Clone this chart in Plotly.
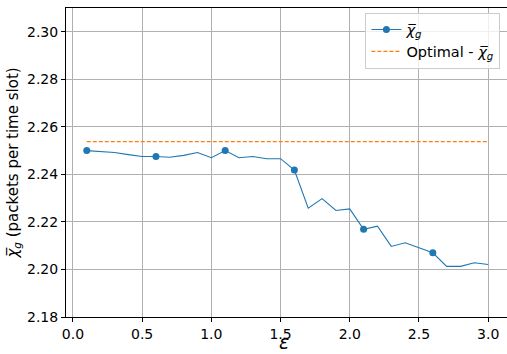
import plotly.graph_objects as go

eps = [0.1, 0.2, 0.3, 0.4, 0.5, 0.6, 0.7, 0.8, 0.9, 1.0,
       1.1, 1.2, 1.3, 1.4, 1.5, 1.6, 1.7, 1.8, 1.9, 2.0,
       2.1, 2.2, 2.3, 2.4, 2.5, 2.6, 2.7, 2.8, 2.9, 3.0]
chi_g = [2.2500, 2.2497, 2.2492, 2.2483, 2.2475, 2.2475, 2.2472, 2.2480, 2.2492, 2.2470,
         2.2500, 2.2470, 2.2475, 2.2466, 2.2466, 2.2418, 2.2258, 2.2298, 2.2248, 2.2255,
         2.2169, 2.2182, 2.2097, 2.2112, 2.2092, 2.2070, 2.2013, 2.2013, 2.2028, 2.2021]
optimal = 2.2538
x_ticks = [0.0, 0.5, 1.0, 1.5, 2.0, 2.5, 3.0]
y_ticks = [2.18, 2.20, 2.22, 2.24, 2.26, 2.28, 2.30]

blue = "#1f77b4"
orange = "#ff7f0e"
font = "DejaVu Sans"
sym = "<i>χ̅</i><sub><i>g</i></sub>"

# markers on every fifth point (matplotlib markevery=5)
marker_colors = [blue if i % 5 == 0 else "rgba(0,0,0,0)" for i in range(len(eps))]

fig = go.Figure()
fig.add_trace(go.Scatter(
    x=eps, y=chi_g, mode="lines+markers", name=sym,
    line=dict(color=blue, width=1.1),
    marker=dict(color=marker_colors, size=7, opacity=1, line=dict(width=0)),
))
fig.add_trace(go.Scatter(
    x=[eps[0], eps[-1]], y=[optimal, optimal], mode="lines", name="Optimal - " + sym,
    line=dict(color=orange, width=1.4, dash="4px,2px"),
))

axis_common = dict(
    showgrid=True, gridcolor="#b0b0b0", gridwidth=1,
    showline=True, linecolor="black", linewidth=1,
    ticks="outside", ticklen=4, tickcolor="black", tickwidth=1,
    zeroline=False, automargin=False,
    tickfont=dict(family=font, size=14, color="black"),
)

fig.update_layout(
    width=507, height=354,
    margin=dict(l=66, r=0, t=8, b=37),
    paper_bgcolor="white", plot_bgcolor="white",
    font=dict(family=font, color="black"),
    xaxis=dict(
        range=[-0.05, 3.136], tickvals=x_ticks, tickformat=".1f",
        mirror=True,
        **axis_common,
    ),
    yaxis=dict(
        range=[2.18, 2.31], tickvals=y_ticks, tickformat=".2f",
        title=dict(text=sym + " (packets per time slot)", font=dict(family=font, size=15), standoff=4),
        **axis_common,
    ),
    annotations=[dict(
        text="<i>ε</i>", xref="paper", yref="paper", x=0.495, y=-0.082,
        xanchor="center", yanchor="middle", showarrow=False,
        font=dict(family=font, size=19, color="black"),
    )],
    legend=dict(
        x=0.985, y=0.985, xanchor="right", yanchor="top",
        bgcolor="rgba(255,255,255,0.8)", bordercolor="#cccccc", borderwidth=1,
        font=dict(family=font, size=14.5, color="black"),
        tracegroupgap=5, itemwidth=30,
    ),
    showlegend=True,
)

fig.write_html("out.html", config={"displayModeBar": False},
               post_script="document.body.style.margin='0px';")
